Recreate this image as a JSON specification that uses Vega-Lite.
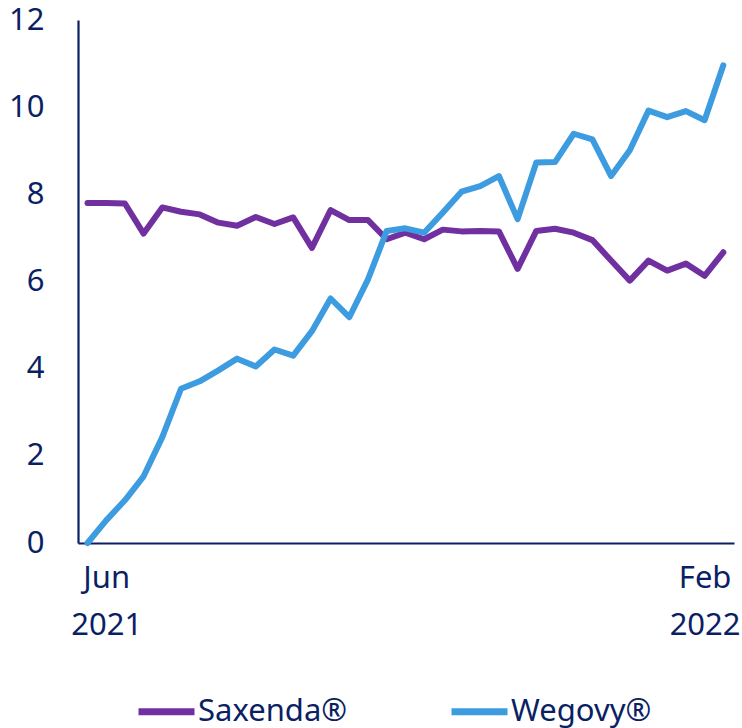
{
  "$schema": "https://vega.github.io/schema/vega-lite/v6.json",
  "width": 656,
  "height": 523,
  "autosize": {"type": "none"},
  "padding": {"left": 78, "top": 20, "right": 8, "bottom": 185},
  "background": "white",
  "config": {
    "view": {"stroke": null},
    "font": "Noto Sans",
    "axis": {"grid": false, "ticks": false, "domainColor": "#0b1f64", "domainWidth": 2.2, "labelColor": "#0b1f64", "labelFontSize": 31, "labelFont": "Noto Sans"},
    "legend": {"labelFont": "Noto Sans"}
  },
  "data": {
    "values": [
      {"week": 0, "series": "Saxenda®", "value": 7.80},
      {"week": 1, "series": "Saxenda®", "value": 7.80},
      {"week": 2, "series": "Saxenda®", "value": 7.79},
      {"week": 3, "series": "Saxenda®", "value": 7.10},
      {"week": 4, "series": "Saxenda®", "value": 7.70},
      {"week": 5, "series": "Saxenda®", "value": 7.60},
      {"week": 6, "series": "Saxenda®", "value": 7.54},
      {"week": 7, "series": "Saxenda®", "value": 7.35},
      {"week": 8, "series": "Saxenda®", "value": 7.28},
      {"week": 9, "series": "Saxenda®", "value": 7.48},
      {"week": 10, "series": "Saxenda®", "value": 7.32},
      {"week": 11, "series": "Saxenda®", "value": 7.47},
      {"week": 12, "series": "Saxenda®", "value": 6.77},
      {"week": 13, "series": "Saxenda®", "value": 7.64},
      {"week": 14, "series": "Saxenda®", "value": 7.41},
      {"week": 15, "series": "Saxenda®", "value": 7.41},
      {"week": 16, "series": "Saxenda®", "value": 6.97},
      {"week": 17, "series": "Saxenda®", "value": 7.12},
      {"week": 18, "series": "Saxenda®", "value": 6.97},
      {"week": 19, "series": "Saxenda®", "value": 7.19},
      {"week": 20, "series": "Saxenda®", "value": 7.15},
      {"week": 21, "series": "Saxenda®", "value": 7.16},
      {"week": 22, "series": "Saxenda®", "value": 7.15},
      {"week": 23, "series": "Saxenda®", "value": 6.29},
      {"week": 24, "series": "Saxenda®", "value": 7.16},
      {"week": 25, "series": "Saxenda®", "value": 7.21},
      {"week": 26, "series": "Saxenda®", "value": 7.12},
      {"week": 27, "series": "Saxenda®", "value": 6.95},
      {"week": 28, "series": "Saxenda®", "value": 6.48},
      {"week": 29, "series": "Saxenda®", "value": 6.02},
      {"week": 30, "series": "Saxenda®", "value": 6.48},
      {"week": 31, "series": "Saxenda®", "value": 6.25},
      {"week": 32, "series": "Saxenda®", "value": 6.41},
      {"week": 33, "series": "Saxenda®", "value": 6.13},
      {"week": 34, "series": "Saxenda®", "value": 6.67},
      {"week": 0, "series": "Wegovy®", "value": 0.0},
      {"week": 1, "series": "Wegovy®", "value": 0.52},
      {"week": 2, "series": "Wegovy®", "value": 0.98},
      {"week": 3, "series": "Wegovy®", "value": 1.53},
      {"week": 4, "series": "Wegovy®", "value": 2.43},
      {"week": 5, "series": "Wegovy®", "value": 3.54},
      {"week": 6, "series": "Wegovy®", "value": 3.71},
      {"week": 7, "series": "Wegovy®", "value": 3.96},
      {"week": 8, "series": "Wegovy®", "value": 4.23},
      {"week": 9, "series": "Wegovy®", "value": 4.05},
      {"week": 10, "series": "Wegovy®", "value": 4.44},
      {"week": 11, "series": "Wegovy®", "value": 4.30},
      {"week": 12, "series": "Wegovy®", "value": 4.86},
      {"week": 13, "series": "Wegovy®", "value": 5.61},
      {"week": 14, "series": "Wegovy®", "value": 5.18},
      {"week": 15, "series": "Wegovy®", "value": 6.05},
      {"week": 16, "series": "Wegovy®", "value": 7.16},
      {"week": 17, "series": "Wegovy®", "value": 7.22},
      {"week": 18, "series": "Wegovy®", "value": 7.12},
      {"week": 19, "series": "Wegovy®", "value": 7.58},
      {"week": 20, "series": "Wegovy®", "value": 8.06},
      {"week": 21, "series": "Wegovy®", "value": 8.19},
      {"week": 22, "series": "Wegovy®", "value": 8.42},
      {"week": 23, "series": "Wegovy®", "value": 7.43},
      {"week": 24, "series": "Wegovy®", "value": 8.73},
      {"week": 25, "series": "Wegovy®", "value": 8.74},
      {"week": 26, "series": "Wegovy®", "value": 9.39},
      {"week": 27, "series": "Wegovy®", "value": 9.26},
      {"week": 28, "series": "Wegovy®", "value": 8.42},
      {"week": 29, "series": "Wegovy®", "value": 9.01},
      {"week": 30, "series": "Wegovy®", "value": 9.92},
      {"week": 31, "series": "Wegovy®", "value": 9.77},
      {"week": 32, "series": "Wegovy®", "value": 9.91},
      {"week": 33, "series": "Wegovy®", "value": 9.70},
      {"week": 34, "series": "Wegovy®", "value": 10.96}
    ]
  },
  "mark": {"type": "line", "strokeWidth": 6, "strokeJoin": "round", "strokeCap": "round"},
  "encoding": {
    "x": {
      "field": "week",
      "type": "quantitative",
      "scale": {"domain": [-0.508, 34.572], "nice": false, "zero": false},
      "axis": {
        "title": null,
        "values": [1, 33],
        "labelExpr": "datum.value < 10 ? ['Jun', '2021'] : ['Feb', '2022']",
        "labelPadding": 20,
        "labelLineHeight": 47,
        "labelAlign": "center",
        "labelFlush": false,
        "labelOverlap": false
      }
    },
    "y": {
      "field": "value",
      "type": "quantitative",
      "scale": {"domain": [0, 12], "nice": false},
      "axis": {"title": null, "values": [0, 2, 4, 6, 8, 10, 12], "labelPadding": 34}
    },
    "color": {
      "field": "series",
      "type": "nominal",
      "scale": {"domain": ["Saxenda®", "Wegovy®"], "range": ["#7030a0", "#3d9be0"]},
      "legend": {
        "title": null,
        "orient": "none",
        "legendX": 57,
        "legendY": 660,
        "direction": "horizontal",
        "symbolType": "stroke",
        "symbolSize": 3136,
        "symbolStrokeWidth": 7,
        "labelFontSize": 31,
        "labelColor": "#0b1f64",
        "labelOffset": 0,
        "columnPadding": 89,
        "labelLimit": 300
      }
    }
  }
}
